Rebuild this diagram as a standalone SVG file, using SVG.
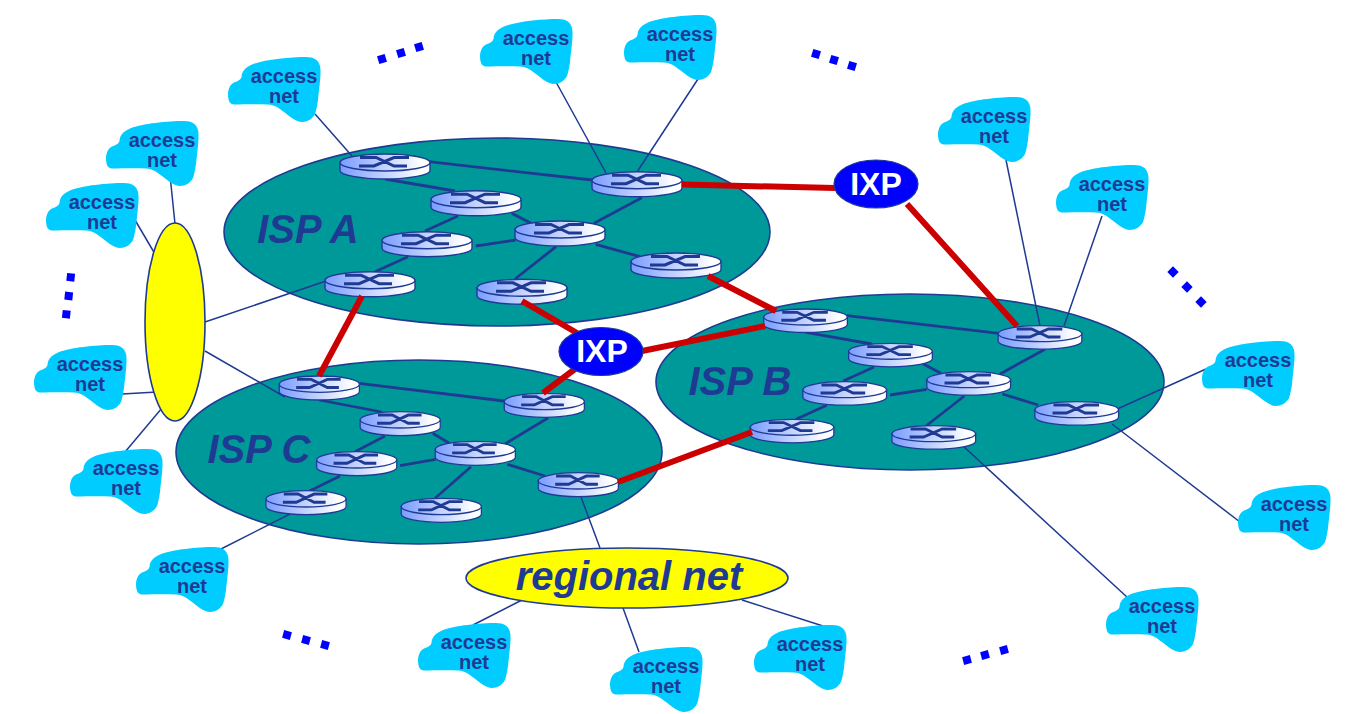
<svg xmlns="http://www.w3.org/2000/svg" width="1349" height="714" viewBox="0 0 1349 714">
<style>
text{font-family:"Liberation Sans",Arial,sans-serif;font-weight:bold;text-anchor:middle}
.cloud{fill:#00ccff}
.at{font-size:20px;fill:#1f3a93}
.isp{fill:#009999;stroke:#1f3a93;stroke-width:1.6}
.yel{fill:#ffff00;stroke:#1f3a93;stroke-width:1.6}
.ixp{fill:#0000ff;stroke:#1f3a93;stroke-width:1.2}
.ixt{font-size:32px;fill:#fff}
.big{font-style:italic;fill:#1f3a93}
.thin{stroke:#1f3a93;stroke-width:1.5;fill:none}
.core{stroke:#1f3a93;stroke-width:2.8;fill:none}
.red{stroke:#cc0000;stroke-width:6;fill:none}
.dot{fill:#0000ff}
.rt{stroke:#1f3a93;stroke-width:1.4;fill:url(#rg)}
.gl{stroke:#1f3a93;stroke-width:3;fill:none}
</style>
<defs>
<linearGradient id="rg" x1="0" y1="0" x2="1" y2="0"><stop offset="0" stop-color="#7a9cff"/><stop offset=".9" stop-color="#ffffff"/></linearGradient>
<path id="cl" d="M0 37C0.500 30 3 27 6 25.500C10 24 12.500 23 13.500 20C14 14 17 10.500 24 7.500C36 2.500 62 0 78 0C86 0 90.500 3 92 9C93.500 16 91.500 28 90 43C89 50 88 54 87 57C84.500 62 79 65 74 65C68 65 62 59.500 56 55C50 50.500 47 48 40 47.500C28 47 15 47.500 6 47.500C2 47.500 0 44 0 37Z"/>
<g id="router">
<path class="rt" d="M-45 8.500V16.500C-45 21 -25 25 0 25S45 21 45 16.500V8.500Z"/>
<ellipse class="rt" cx="0" cy="8.500" rx="45" ry="8.500"/>
<path class="gl" d="M-25 3.500H-9L9 12H22M-26 12H-11L9 3.500H24"/>
</g>
</defs>

<!-- provider networks -->
<ellipse class="isp" cx="497" cy="232" rx="273" ry="94"/>
<ellipse class="isp" cx="910" cy="382" rx="254" ry="88"/>
<ellipse class="isp" cx="419" cy="452" rx="243" ry="92"/>

<g id="connectors">
<path class="thin" d="M315 114L352 156M170 175L175 224M135 220L155 254M122 394L157 392M125 452L162 408M205 322L335 278M205 351L285 397M221 549L290 514M556 82L606 173M698 79L637 172M1006 160L1040 326M1102 216L1064 326M1206 369L1115 410M1240 522L1112 424M1128 598L962 445M581 497L600 548M522 600L473 625M623 608L639 652M742 600L823 626"/>
<path class="core" d="M429 161.700L592 180M385 179L455 191M458 216L425 231M511.700 213.300L531 223.300M475.700 246L515.700 240M408 256.700L375 271.700M594 223.300L641.700 197.700M595.700 244.300L640 256.700M556 246.700L515 279"/>
<path class="core" d="M847 315.700L999 333.300M806 332.300L871.700 344M874 367L843.300 381M923.300 364L941 373.300M890 395L926.700 389.300M826.700 405.300L796 419.300M1045 349.300L1000 374M1002.300 394L1038.300 405M964.300 396L926 426"/>
<path class="core" d="M359.300 383.300L504 401M319.300 400L381.700 412M385 436L355 451.700M432.700 433.300L449.300 443.300M400 465.700L435.700 459.300M340 476L310 490.700M548.300 417.700L505 444M507.300 464.300L545 476M471 466.700L435 498.300"/>
</g>

<!-- routers -->
<g id="routers-a">
<use href="#router" transform="translate(385 154)"/>
<use href="#router" transform="translate(476 190.700)"/>
<use href="#router" transform="translate(427 231.700)"/>
<use href="#router" transform="translate(370 271.700)"/>
<use href="#router" transform="translate(560 221)"/>
<use href="#router" transform="translate(637 171.700)"/>
<use href="#router" transform="translate(676 253)"/>
<use href="#router" transform="translate(522 279.300)"/>
</g>
<g id="routers-b">
<use href="#router" transform="translate(805.500 309) scale(.93 .94)"/>
<use href="#router" transform="translate(890.500 343.300) scale(.93 .94)"/>
<use href="#router" transform="translate(844.700 381.700) scale(.93 .94)"/>
<use href="#router" transform="translate(792 419.300) scale(.93 .94)"/>
<use href="#router" transform="translate(968.700 371.700) scale(.93 .94)"/>
<use href="#router" transform="translate(1040 325.700) scale(.93 .94)"/>
<use href="#router" transform="translate(1076.700 401.700) scale(.93 .94)"/>
<use href="#router" transform="translate(933.800 425.700) scale(.93 .94)"/>
</g>
<g id="routers-c">
<use href="#router" transform="translate(319.300 376) scale(.89 .96)"/>
<use href="#router" transform="translate(400.200 411.700) scale(.89 .96)"/>
<use href="#router" transform="translate(356.700 451.700) scale(.89 .96)"/>
<use href="#router" transform="translate(306 490.700) scale(.89 .96)"/>
<use href="#router" transform="translate(475.300 441.300) scale(.89 .96)"/>
<use href="#router" transform="translate(544.300 393.300) scale(.89 .96)"/>
<use href="#router" transform="translate(578.300 472.700) scale(.89 .96)"/>
<use href="#router" transform="translate(441.300 498.300) scale(.89 .96)"/>
</g>

<!-- peering links run above the routers they touch -->
<g id="peering" class="red">
<path d="M682 184.500L835 188M907 204L1017 326M708 276L776 311M522 301L577 333M642 351L765 326M362 296L319 376M543 393L575 369M618 482L752 432"/>
</g>

<text class="big" x="308" y="243" font-size="40">ISP A</text>
<text class="big" x="740" y="395" font-size="40">ISP B</text>
<text class="big" x="259" y="463" font-size="40">ISP C</text>

<g id="ixp-top"><ellipse class="ixp" cx="876" cy="184" rx="42" ry="24"/><text class="ixt" x="876" y="195">IXP</text></g>
<g id="ixp-mid"><ellipse class="ixp" cx="601" cy="351.500" rx="42" ry="24"/><text class="ixt" x="602" y="362">IXP</text></g>
<g id="pop"><ellipse class="yel" cx="175" cy="322" rx="30" ry="99"/></g>
<g id="regional"><ellipse class="yel" cx="627" cy="578" rx="161" ry="30"/><text class="big" x="629" y="590" font-size="40">regional net</text></g>

<!-- access networks -->
<g id="an1" transform="translate(228 57)"><use href="#cl" class="cloud"/><text class="at" x="56" y="25.500">access</text><text class="at" x="56" y="45.500">net</text></g>
<g id="an2" transform="translate(106 121)"><use href="#cl" class="cloud"/><text class="at" x="56" y="25.500">access</text><text class="at" x="56" y="45.500">net</text></g>
<g id="an3" transform="translate(46 183)"><use href="#cl" class="cloud"/><text class="at" x="56" y="25.500">access</text><text class="at" x="56" y="45.500">net</text></g>
<g id="an4" transform="translate(34 345)"><use href="#cl" class="cloud"/><text class="at" x="56" y="25.500">access</text><text class="at" x="56" y="45.500">net</text></g>
<g id="an5" transform="translate(70 449)"><use href="#cl" class="cloud"/><text class="at" x="56" y="25.500">access</text><text class="at" x="56" y="45.500">net</text></g>
<g id="an6" transform="translate(136 547)"><use href="#cl" class="cloud"/><text class="at" x="56" y="25.500">access</text><text class="at" x="56" y="45.500">net</text></g>
<g id="an7" transform="translate(480 19)"><use href="#cl" class="cloud"/><text class="at" x="56" y="25.500">access</text><text class="at" x="56" y="45.500">net</text></g>
<g id="an8" transform="translate(624 15)"><use href="#cl" class="cloud"/><text class="at" x="56" y="25.500">access</text><text class="at" x="56" y="45.500">net</text></g>
<g id="an9" transform="translate(938 97)"><use href="#cl" class="cloud"/><text class="at" x="56" y="25.500">access</text><text class="at" x="56" y="45.500">net</text></g>
<g id="an10" transform="translate(1056 165)"><use href="#cl" class="cloud"/><text class="at" x="56" y="25.500">access</text><text class="at" x="56" y="45.500">net</text></g>
<g id="an11" transform="translate(1202 341)"><use href="#cl" class="cloud"/><text class="at" x="56" y="25.500">access</text><text class="at" x="56" y="45.500">net</text></g>
<g id="an12" transform="translate(1238 485)"><use href="#cl" class="cloud"/><text class="at" x="56" y="25.500">access</text><text class="at" x="56" y="45.500">net</text></g>
<g id="an13" transform="translate(1106 587)"><use href="#cl" class="cloud"/><text class="at" x="56" y="25.500">access</text><text class="at" x="56" y="45.500">net</text></g>
<g id="an14" transform="translate(418 623)"><use href="#cl" class="cloud"/><text class="at" x="56" y="25.500">access</text><text class="at" x="56" y="45.500">net</text></g>
<g id="an15" transform="translate(610 647)"><use href="#cl" class="cloud"/><text class="at" x="56" y="25.500">access</text><text class="at" x="56" y="45.500">net</text></g>
<g id="an16" transform="translate(754 625)"><use href="#cl" class="cloud"/><text class="at" x="56" y="25.500">access</text><text class="at" x="56" y="45.500">net</text></g>

<!-- ellipsis dots -->
<g class="dot">
<rect x="-4" y="-4" width="8" height="8" transform="translate(382 59) rotate(-17)"/>
<rect x="-4" y="-4" width="8" height="8" transform="translate(401 53) rotate(-17)"/>
<rect x="-4" y="-4" width="8" height="8" transform="translate(419 47) rotate(-17)"/>
<rect x="-4" y="-4" width="8" height="8" transform="translate(816 54) rotate(17)"/>
<rect x="-4" y="-4" width="8" height="8" transform="translate(834 60) rotate(17)"/>
<rect x="-4" y="-4" width="8" height="8" transform="translate(852 66) rotate(17)"/>
<rect x="-4" y="-4" width="8" height="8" transform="translate(1173 272) rotate(45)"/>
<rect x="-4" y="-4" width="8" height="8" transform="translate(1187 287) rotate(45)"/>
<rect x="-4" y="-4" width="8" height="8" transform="translate(1201 302) rotate(45)"/>
<rect x="-4" y="-4" width="8" height="8" transform="translate(70.700 277.300) rotate(6)"/>
<rect x="-4" y="-4" width="8" height="8" transform="translate(68.700 296) rotate(6)"/>
<rect x="-4" y="-4" width="8" height="8" transform="translate(66.300 314.300) rotate(6)"/>
<rect x="-4" y="-4" width="8" height="8" transform="translate(287 635) rotate(15)"/>
<rect x="-4" y="-4" width="8" height="8" transform="translate(306 640) rotate(15)"/>
<rect x="-4" y="-4" width="8" height="8" transform="translate(325 645) rotate(15)"/>
<rect x="-4" y="-4" width="8" height="8" transform="translate(967 660) rotate(-15)"/>
<rect x="-4" y="-4" width="8" height="8" transform="translate(985 655) rotate(-15)"/>
<rect x="-4" y="-4" width="8" height="8" transform="translate(1004 650) rotate(-15)"/>
</g>
</svg>
